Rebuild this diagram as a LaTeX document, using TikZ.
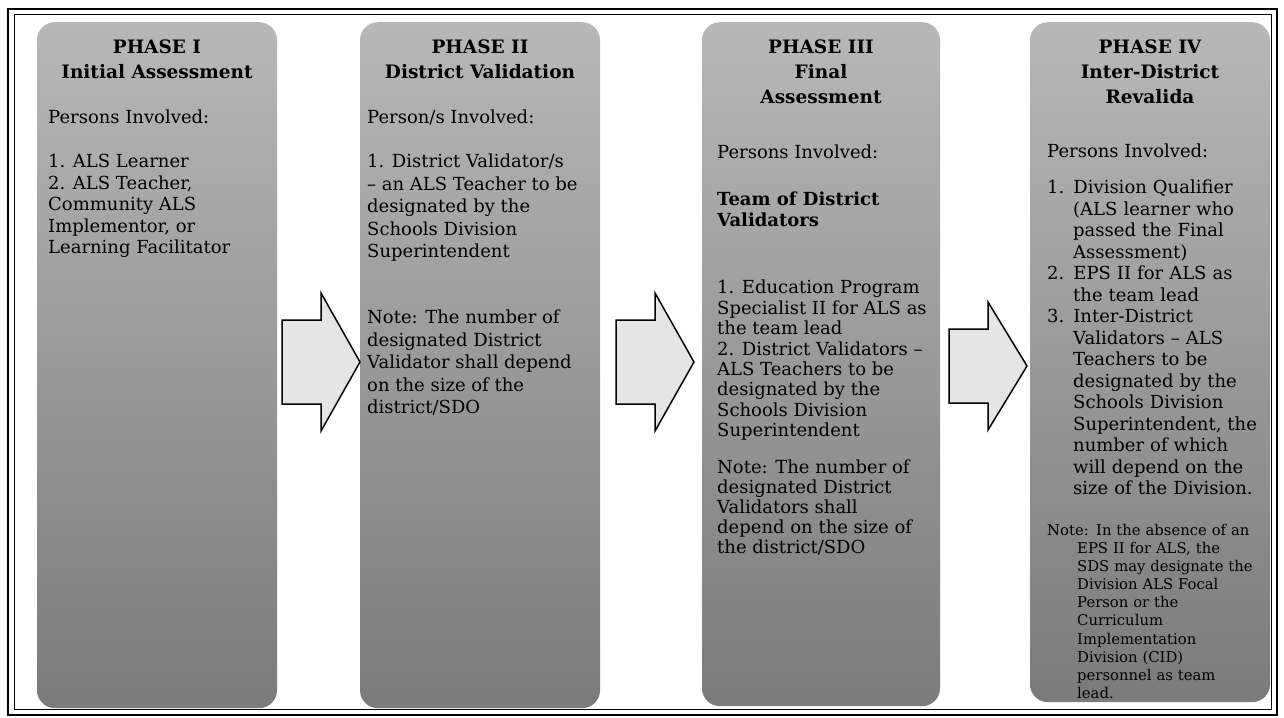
\documentclass[tikz,border=0pt]{standalone}
\usepackage{fontspec}
\setmainfont{DejaVu Serif}

\tikzset{
  phasebox/.style={rounded corners=18pt, top color=black!28, bottom color=black!52,
    minimum width=240pt, inner sep=0pt, anchor=north},
  heading/.style={font=\fontsize{18.5}{25}\selectfont\bfseries, align=center,
    inner sep=0pt, anchor=north},
  body/.style={font=\fontsize{18}{21.5}\selectfont, align=left, inner sep=0pt,
    anchor=north west},
  smallnote/.style={font=\fontsize{14.8}{18.1}\selectfont, align=left, inner sep=0pt,
    anchor=north west, text width=222pt},
  blockarrow/.style={draw=black, line width=1.5pt, fill=black!10, line join=miter}
}

\begin{document}
\begin{tikzpicture}[x=1pt, y=-1pt]
\useasboundingbox (0,0) rectangle (1284,717);
\fill[white] (0,0) rectangle (1284,717);

% frame
\draw[line width=2pt] (8,9) rectangle (1277,715);
\draw[line width=1pt] (14,15) rectangle (1271,709);

% the four phases
\node (phaseI) [phasebox, minimum height=686pt] at (157,22) {};
\node (phaseII) [phasebox, minimum height=686pt] at (480,22) {};
\node (phaseIII) [phasebox, minimum height=684pt, minimum width=238pt] at (821,22) {};
\node (phaseIV) [phasebox, minimum height=680pt] at (1150,22) {};

% arrows between the phases
\coordinate (arrI) at (282,362);
\coordinate (arrII) at (616,362);
\coordinate (arrIII) at (949,366);
\draw[blockarrow] (arrI) ++(0,-42) -- ++(39,0) -- ++(0,-27) -- ++(39,69)
  -- ++(-39,69) -- ++(0,-27) -- ++(-39,0) -- cycle;
\draw[blockarrow] (arrII) ++(0,-42) -- ++(39,0) -- ++(0,-27) -- ++(39,69)
  -- ++(-39,69) -- ++(0,-27) -- ++(-39,0) -- cycle;
\draw[blockarrow] (arrIII) ++(0,-37) -- ++(39,0) -- ++(0,-27) -- ++(39,64)
  -- ++(-39,64) -- ++(0,-27) -- ++(-39,0) -- cycle;

% phase I
\node (titleI) [heading] at (157,40) {PHASE I\\Initial Assessment};
\node (whoI) [body] at (48,110) {Persons Involved:};
\node (listI) [body] at (48,154) {1. ALS Learner\\2. ALS Teacher,\\Community ALS\\Implementor, or\\Learning Facilitator};

% phase II
\node (titleII) [heading] at (480,40) {PHASE II\\District Validation};
\node (whoII) [body] at (367,110) {Person/s Involved:};
\node (listII) [body, font=\fontsize{18}{22.5}\selectfont] at (367,154) {1. District Validator/s\\-- an ALS Teacher to be\\designated by the\\Schools Division\\Superintendent};
\node (noteII) [body, font=\fontsize{18}{22.5}\selectfont] at (367,310) {Note: The number of\\designated District\\Validator shall depend\\on the size of the\\district/SDO};

% phase III
\node (titleIII) [heading] at (821,40) {PHASE III\\Final\\Assessment};
\node (whoIII) [body] at (717,145) {Persons Involved:};
\node (teamIII) [body, font=\fontsize{18}{20.5}\selectfont\bfseries] at (717,192) {Team of District\\Validators};
\node (listIII) [body, font=\fontsize{18}{20.4}\selectfont] at (717,280) {1. Education Program\\Specialist II for ALS as\\the team lead\\2. District Validators --\\ALS Teachers to be\\designated by the\\Schools Division\\Superintendent};
\node (noteIII) [body, font=\fontsize{18}{20}\selectfont] at (717,460) {Note: The number of\\designated District\\Validators shall\\depend on the size of\\the district/SDO};

% phase IV
\node (titleIV) [heading] at (1150,40) {PHASE IV\\Inter-District\\Revalida};
\node (whoIV) [body] at (1047,144) {Persons Involved:};
\node (listIV) [body, text width=222pt] at (1047,180) {%
  \hangindent=26pt\hangafter=1 1. Division Qualifier\newline (ALS learner who\newline passed the Final\newline Assessment)\par
  \hangindent=26pt\hangafter=1 2. EPS II for ALS as\newline the team lead\par
  \hangindent=26pt\hangafter=1 3. Inter-District\newline Validators -- ALS\newline Teachers to be\newline designated by the\newline Schools Division\newline Superintendent, the\newline number of which\newline will depend on the\newline size of the Division.\par};
\node (noteIV) [smallnote] at (1047,524) {%
  \hangindent=30pt\hangafter=1 Note: In the absence of an\newline EPS II for ALS, the\newline SDS may designate the\newline Division ALS Focal\newline Person or the\newline Curriculum\newline Implementation\newline Division (CID)\newline personnel as team\newline lead.\par};
\end{tikzpicture}
\end{document}
